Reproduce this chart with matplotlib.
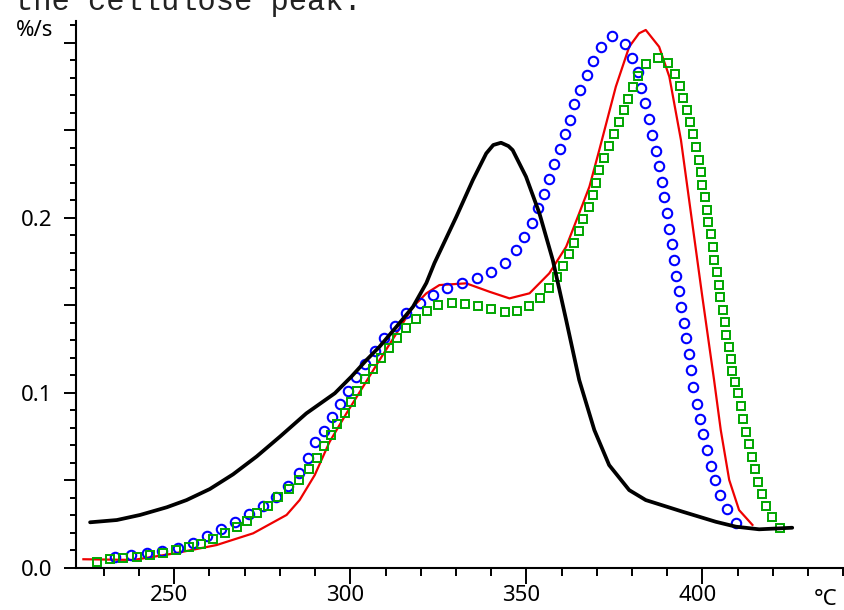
import matplotlib
matplotlib.use("Agg")
import matplotlib.pyplot as plt
from matplotlib.ticker import MultipleLocator, FuncFormatter
from matplotlib.transforms import ScaledTranslation

# ---------------- data ----------------
black_T = [226.1, 233.7, 240.3, 247.9, 253.5, 260.1, 266.7, 273.4, 280.0, 287.5, 295.6, 300.3, 304.6,
           308.3, 313.1, 317.8, 321.6, 323.9, 330.1, 334.8, 338.6, 340.6, 342.8, 344.9, 346.1, 349.9,
           353.7, 357.5, 361.3, 365.0, 369.3, 373.5, 379.2, 383.9, 394.3, 403.8, 409.5, 416.1, 425.5]
black_R = [0.0261, 0.0274, 0.0303, 0.0347, 0.0388, 0.0451, 0.0535, 0.0637, 0.0750, 0.0883, 0.0998, 0.1093, 0.1188,
           0.1264, 0.1378, 0.1492, 0.1628, 0.1742, 0.2006, 0.2216, 0.2368, 0.2416, 0.2429, 0.2410, 0.2387, 0.2235,
           0.2026, 0.1759, 0.1416, 0.1074, 0.0788, 0.0588, 0.0445, 0.0388, 0.0322, 0.0264, 0.0236, 0.0221, 0.0230]

red_T = [224.2, 238.4, 250.2, 262.0, 272.4, 281.9, 285.6, 289.9, 294.1, 298.9, 303.6, 308.3, 313.1,
         317.8, 321.6, 325.3, 332.9, 339.5, 345.2, 350.9, 356.5, 361.3, 365.0, 367.9, 370.7, 375.4,
         379.2, 382.0, 383.9, 387.7, 390.6, 393.9, 396.8, 399.9, 403.3, 405.2, 407.6, 410.4, 414.2]
red_R = [0.0050, 0.0046, 0.0084, 0.0131, 0.0198, 0.0303, 0.0388, 0.0531, 0.0720, 0.0883, 0.1035, 0.1188, 0.1340,
         0.1492, 0.1569, 0.1616, 0.1626, 0.1578, 0.1540, 0.1569, 0.1683, 0.1835, 0.2026, 0.2178, 0.2387, 0.2749,
         0.2977, 0.3054, 0.3073, 0.2977, 0.2806, 0.2444, 0.2016, 0.1559, 0.1074, 0.0788, 0.0503, 0.0331, 0.0246]

blue_T = [233.2, 237.6, 242.2, 246.6, 251.1, 255.4, 259.4, 263.2, 267.2, 271.2, 275.2, 278.8, 282.2,
          285.4, 287.9, 289.9, 292.4, 294.9, 297.2, 299.3, 301.7, 304.3, 306.9, 309.7, 312.8, 315.9,
          319.7, 323.4, 327.4, 331.8, 335.9, 340.0, 343.8, 347.1, 349.4, 351.5, 353.2, 354.9, 356.5,
          357.9, 359.6, 360.9, 362.4, 363.6, 365.3, 367.1, 368.8, 371.2, 374.3, 378.1, 380.0, 381.6,
          382.5, 383.7, 384.7, 385.8, 386.7, 387.6, 388.4, 389.1, 389.8, 390.5, 391.3, 392.0, 392.6,
          393.3, 394.0, 394.7, 395.4, 396.1, 396.8, 397.4, 398.4, 399.2, 400.3, 401.3, 402.4, 403.7,
          405.0, 407.0, 409.5]
blue_R = [0.0061, 0.0074, 0.0084, 0.0097, 0.0113, 0.0144, 0.0183, 0.0221, 0.0264, 0.0308, 0.0356, 0.0408, 0.0468,
          0.0540, 0.0628, 0.0721, 0.0782, 0.0861, 0.0935, 0.1011, 0.1089, 0.1165, 0.1241, 0.1312, 0.1384, 0.1455,
          0.1515, 0.1559, 0.1597, 0.1626, 0.1654, 0.1692, 0.1740, 0.1816, 0.1892, 0.1969, 0.2054, 0.2136, 0.2220,
          0.2305, 0.2391, 0.2477, 0.2561, 0.2648, 0.2730, 0.2815, 0.2895, 0.2977, 0.3040, 0.2993, 0.2911, 0.2831,
          0.2740, 0.2654, 0.2564, 0.2473, 0.2384, 0.2296, 0.2207, 0.2119, 0.2027, 0.1939, 0.1850, 0.1759, 0.1670,
          0.1582, 0.1491, 0.1402, 0.1313, 0.1222, 0.1131, 0.1032, 0.0937, 0.0849, 0.0764, 0.0674, 0.0584, 0.0503,
          0.0417, 0.0335, 0.0255]

green_T = [228.2, 231.8, 235.5, 239.5, 243.2, 246.9, 250.5, 254.2, 257.6, 261.1, 264.4, 267.7, 270.7,
           273.6, 276.6, 279.6, 282.6, 285.5, 288.2, 290.6, 292.6, 294.4, 296.3, 298.4, 300.1, 302.0,
           304.3, 306.4, 308.6, 310.9, 313.3, 315.9, 318.7, 321.8, 324.9, 328.8, 332.7, 336.4, 340.0,
           343.8, 347.4, 350.8, 353.9, 356.5, 358.6, 360.5, 362.2, 363.6, 365.0, 366.2, 367.7, 369.0,
           369.9, 370.7, 372.1, 373.5, 374.9, 376.2, 377.6, 379.0, 380.4, 381.8, 384.1, 387.3, 390.3,
           392.2, 393.7, 394.6, 395.7, 396.5, 397.4, 398.2, 398.9, 399.5, 400.0, 400.6, 401.2, 401.7,
           402.3, 402.9, 403.4, 404.0, 404.6, 405.1, 405.7, 406.3, 406.8, 407.4, 408.0, 408.5, 409.2,
           410.1, 410.9, 411.6, 412.4, 413.1, 414.0, 414.9, 415.8, 417.0, 418.1, 419.8, 422.0]
green_R = [0.0036, 0.0050, 0.0059, 0.0065, 0.0073, 0.0086, 0.0102, 0.0118, 0.0136, 0.0164, 0.0198, 0.0232, 0.0268,
           0.0312, 0.0356, 0.0403, 0.0451, 0.0505, 0.0565, 0.0631, 0.0694, 0.0760, 0.0822, 0.0883, 0.0950, 0.1013,
           0.1078, 0.1136, 0.1198, 0.1255, 0.1312, 0.1369, 0.1422, 0.1468, 0.1502, 0.1515, 0.1508, 0.1496, 0.1479,
           0.1464, 0.1469, 0.1496, 0.1540, 0.1597, 0.1660, 0.1725, 0.1793, 0.1858, 0.1926, 0.1993, 0.2060, 0.2130,
           0.2200, 0.2273, 0.2342, 0.2410, 0.2477, 0.2549, 0.2616, 0.2678, 0.2749, 0.2811, 0.2877, 0.2914, 0.2886,
           0.2821, 0.2754, 0.2686, 0.2616, 0.2545, 0.2477, 0.2404, 0.2333, 0.2261, 0.2190, 0.2119, 0.2047, 0.1976,
           0.1905, 0.1833, 0.1762, 0.1690, 0.1619, 0.1548, 0.1476, 0.1405, 0.1333, 0.1262, 0.1191, 0.1125, 0.1064,
           0.0998, 0.0925, 0.0849, 0.0778, 0.0708, 0.0636, 0.0564, 0.0493, 0.0423, 0.0354, 0.0290, 0.0228]

y_labels = {0.0: "0.0", 0.1: "0.1", 0.2: "0.2"}
title_text = "the cellulose peak."
y_unit = "%/s"
x_unit = "°C"

# ---------------- figure ----------------
FONT = ["Noto Sans", "DejaVu Sans"]
plt.rcParams["font.family"] = FONT
LBL = 16

fig = plt.figure(figsize=(8.44, 6.10), dpi=100)
ax = fig.add_axes([76 / 844, 42 / 610, 768 / 844, 547.3 / 610])

ax.plot(red_T, red_R, color="#ee0000", lw=1.6, zorder=2)
ax.plot(blue_T, blue_R, ls="none", marker="o", ms=6.8, mfc="none", mec="#0000ff", mew=1.5, zorder=3)
ax.plot(green_T, green_R, ls="none", marker="s", ms=5.3, mfc="none", mec="#00a600", mew=1.4, zorder=4)
ax.plot(black_T, black_R, color="black", lw=2.7, zorder=5, solid_capstyle="round", solid_joinstyle="round")

ax.set_xlim(222.1, 440.2)
ax.set_ylim(0.0, 0.3126)

for s in ("top", "right"):
    ax.spines[s].set_visible(False)
for s in ("left", "bottom"):
    ax.spines[s].set_linewidth(1.5)

ax.xaxis.set_major_locator(MultipleLocator(50))
ax.xaxis.set_minor_locator(MultipleLocator(10))
ax.yaxis.set_major_locator(MultipleLocator(0.05))
ax.yaxis.set_minor_locator(MultipleLocator(0.01))


def yfmt(v, pos):
    for k, lab in y_labels.items():
        if abs(v - k) < 1e-6:
            return lab
    return ""


ax.yaxis.set_major_formatter(FuncFormatter(yfmt))
ax.tick_params(axis="x", which="major", length=11.5, width=1.4, direction="out", labelsize=LBL, pad=1.0)
ax.tick_params(axis="x", which="minor", length=6, width=1.4, direction="out")
ax.tick_params(axis="y", which="major", length=9, width=1.4, direction="out", labelsize=LBL, pad=8)
ax.tick_params(axis="y", which="minor", length=4.5, width=1.4, direction="out")

off = ScaledTranslation(-5 / 100, 0, fig.dpi_scale_trans)
for lab in ax.get_xticklabels():
    lab.set_transform(lab.get_transform() + off)

fig.text(53 / 844, 1 - 36 / 610, y_unit, ha="right", va="baseline", fontsize=LBL)
fig.text(826 / 844, 1 - 605 / 610, x_unit, ha="center", va="baseline", fontsize=LBL)
fig.text(15 / 844, 1 - 10 / 610, title_text, ha="left", va="baseline",
         fontsize=22, family="Liberation Mono", color="#222222")

fig.savefig("out.png", dpi=100)
